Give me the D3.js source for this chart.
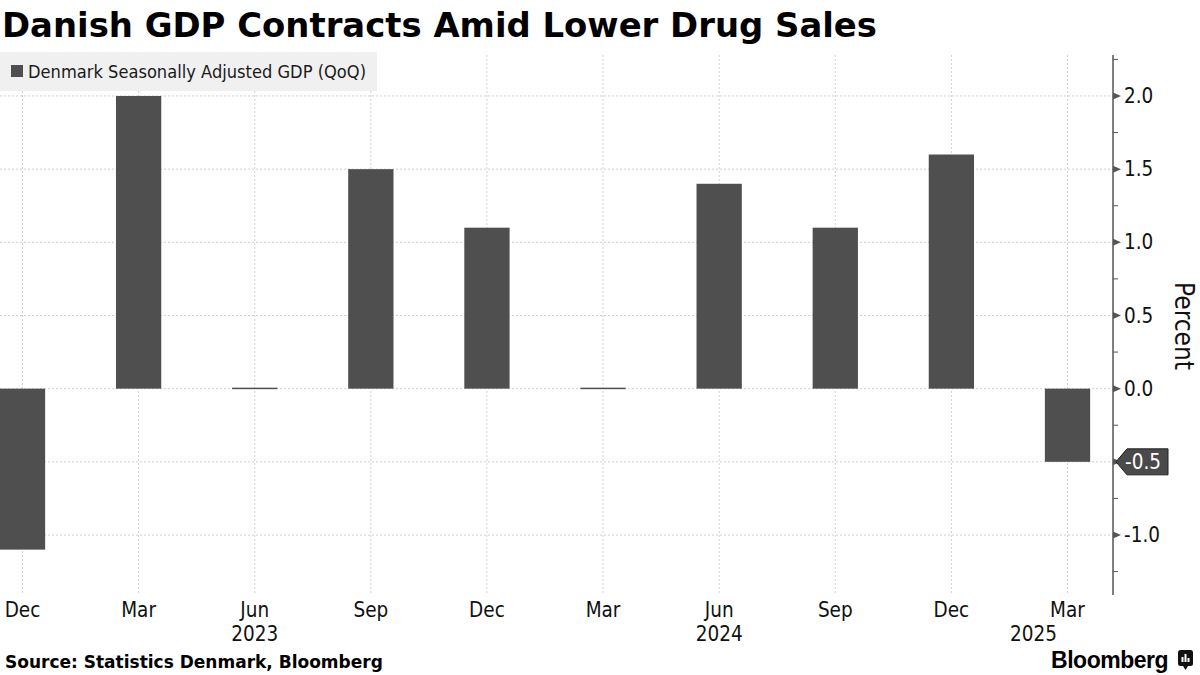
<!DOCTYPE html>
<html>
<head>
<meta charset="utf-8">
<script src="https://cdn.jsdelivr.net/npm/d3@7"></script>
<style>
  body { margin: 0; background: #fff; }
  text { font-family: "DejaVu Sans Condensed", "Liberation Sans Narrow", "DejaVu Sans", sans-serif; }
</style>
</head>
<body>
<div id="chart"></div>
<script>
var W = 1200, H = 675;

var periods = ["2022-12", "2023-03", "2023-06", "2023-09", "2023-12", "2024-03", "2024-06", "2024-09", "2024-12", "2025-03"];
var monthLabels = ["Dec", "Mar", "Jun", "Sep", "Dec", "Mar", "Jun", "Sep", "Dec", "Mar"];
var gdp = [-1.1, 2.0, 0.0, 1.5, 1.1, 0.0, 1.4, 1.1, 1.6, -0.5];
var yearLabels = [{ year: "2023", at: "2023-06" }, { year: "2024", at: "2024-06" }, { year: "2025", at: "2025-03" }];
var yTicks = [-1.0, -0.5, 0.0, 0.5, 1.0, 1.5, 2.0];
var yMinor = [-1.25, -0.75, -0.25, 0.25, 0.75, 1.25, 1.75, 2.25];

var plot = { left: 0, right: 1113, top: 55, bottom: 595 };
var barColor = "#4f4f4f";

var svg = d3.select("#chart").append("svg")
  .attr("width", W)
  .attr("height", H);

var x = d3.scalePoint()
  .domain(periods)
  .range([22.5, 1067.5]);

var barW = x.step() * 0.39;

var y = d3.scaleLinear()
  .domain([-1.41, 2.28])
  .range([plot.bottom, plot.top]);

// grid
svg.append("g")
  .selectAll("line")
  .data(yTicks)
  .enter().append("line")
  .attr("x1", plot.left).attr("x2", plot.right)
  .attr("y1", function (d) { return y(d); })
  .attr("y2", function (d) { return y(d); })
  .style("stroke", "#d0d0d0")
  .style("stroke-dasharray", "2,2");

svg.append("g")
  .selectAll("line")
  .data(periods)
  .enter().append("line")
  .attr("x1", function (d) { return x(d); })
  .attr("x2", function (d) { return x(d); })
  .attr("y1", plot.top).attr("y2", plot.bottom)
  .style("stroke", "#d0d0d0")
  .style("stroke-dasharray", "2,2");

// legend
var legend = svg.append("g");
legend.append("rect")
  .attr("x", 0).attr("y", 52)
  .attr("width", 377).attr("height", 39)
  .style("fill", "#f0f0f0");
legend.append("rect")
  .attr("x", 11).attr("y", 65)
  .attr("width", 12).attr("height", 12)
  .style("fill", barColor);
var legText = legend.append("text")
  .attr("x", 28).attr("y", 78)
  .style("font-size", "18.5px")
  .style("fill", "#1a1a1a")
  .text("Denmark Seasonally Adjusted GDP (QoQ)");
if (legText.node().getComputedTextLength() > 338) {
  legText.attr("textLength", 338).attr("lengthAdjust", "spacingAndGlyphs");
}

// bars
svg.append("g")
  .selectAll("rect")
  .data(gdp)
  .enter().append("rect")
  .attr("x", function (d, i) { return x(periods[i]) - barW / 2; })
  .attr("width", barW)
  .attr("y", function (d) { return d === 0 ? y(0) - 1 : Math.min(y(d), y(0)); })
  .attr("height", function (d) { return d === 0 ? 1.5 : Math.abs(y(d) - y(0)); })
  .style("fill", barColor);

// right axis
var axis = svg.append("g").attr("transform", "translate(" + plot.right + ",0)");
axis.append("line")
  .attr("y1", plot.top).attr("y2", plot.bottom)
  .style("stroke", "#555").style("stroke-width", 1.5);

axis.selectAll(".minor")
  .data(yMinor)
  .enter().append("line")
  .attr("x1", 0).attr("x2", 5)
  .attr("y1", function (d) { return y(d); })
  .attr("y2", function (d) { return y(d); })
  .style("stroke", "#555");

axis.selectAll(".major")
  .data(yTicks)
  .enter().append("path")
  .attr("d", function (d) { var v = y(d); return "M0," + (v - 3.5) + "L8," + v + "L0," + (v + 3.5) + "Z"; })
  .style("fill", "#555");

axis.selectAll(".lbl")
  .data(yTicks.filter(function (d) { return d !== gdp[gdp.length - 1]; }))
  .enter().append("text")
  .attr("x", 11)
  .attr("y", function (d) { return y(d); })
  .attr("dy", "0.35em")
  .style("font-size", "20.5px")
  .style("fill", "#111")
  .text(function (d) { return d3.format(".1f")(d).replace("−", "-"); });

// last value callout
var last = gdp[gdp.length - 1];
var ly = y(last);
axis.append("path")
  .attr("d", "M3," + ly + "L14," + (ly - 13) + "L55," + (ly - 13) + "L55," + (ly + 13) + "L14," + (ly + 13) + "Z")
  .style("fill", "#4a4a4a")
  .style("stroke", "#222");
axis.append("text")
  .attr("x", 12).attr("y", ly)
  .attr("dy", "0.35em")
  .style("font-size", "20.5px")
  .style("fill", "#fff")
  .text(d3.format(".1f")(last).replace("−", "-"));

svg.append("text")
  .attr("transform", "translate(1175,326) rotate(90)")
  .style("text-anchor", "middle")
  .style("font-size", "26px")
  .style("fill", "#111")
  .text("Percent");

// x labels
svg.append("g")
  .selectAll("text")
  .data(periods)
  .enter().append("text")
  .attr("x", function (d) { return x(d); })
  .attr("y", 617)
  .style("text-anchor", "middle")
  .style("font-size", "20.5px")
  .style("fill", "#111")
  .text(function (d, i) { return monthLabels[i]; });

svg.append("g")
  .selectAll("text")
  .data(yearLabels)
  .enter().append("text")
  .attr("x", function (d, i) { return i === yearLabels.length - 1 ? x(d.at) - 34 : x(d.at); })
  .attr("y", 641)
  .style("text-anchor", "middle")
  .style("font-size", "20.5px")
  .style("fill", "#111")
  .text(function (d) { return d.year; });

// title
var title = svg.append("text")
  .attr("x", 2).attr("y", 37)
  .style("font-family", "'DejaVu Sans', sans-serif")
  .style("font-weight", "bold")
  .style("font-size", "34px")
  .style("fill", "#000")
  .text("Danish GDP Contracts Amid Lower Drug Sales");
if (title.node().getComputedTextLength() > 875) {
  title.attr("textLength", 875).attr("lengthAdjust", "spacingAndGlyphs");
}

// footer
var src = svg.append("text")
  .attr("x", 5).attr("y", 668)
  .style("font-family", "'DejaVu Sans', sans-serif")
  .style("font-weight", "bold")
  .style("font-size", "17px")
  .style("fill", "#000")
  .text("Source: Statistics Denmark, Bloomberg");
if (src.node().getComputedTextLength() > 380) {
  src.attr("textLength", 380).attr("lengthAdjust", "spacingAndGlyphs");
}

svg.append("text")
  .attr("x", 1168).attr("y", 668)
  .style("text-anchor", "end")
  .style("font-family", "'Liberation Sans', Arial, sans-serif")
  .style("font-weight", "bold")
  .style("font-size", "23px")
  .style("letter-spacing", "-0.5px")
  .style("fill", "#000")
  .text("Bloomberg");

var logo = svg.append("g").attr("transform", "translate(1178,650)");
logo.append("rect")
  .attr("width", 15).attr("height", 16).attr("rx", 2.5)
  .style("fill", "#111");
logo.append("path")
  .attr("d", "M5,16L7.5,20L10,16Z")
  .style("fill", "#111");
[[3.5, 7], [6.5, 4], [9.5, 8]].forEach(function (b) {
  logo.append("rect")
    .attr("x", b[0]).attr("y", b[1])
    .attr("width", 2).attr("height", 12 - b[1])
    .style("fill", "#fff");
});
</script>
</body>
</html>
